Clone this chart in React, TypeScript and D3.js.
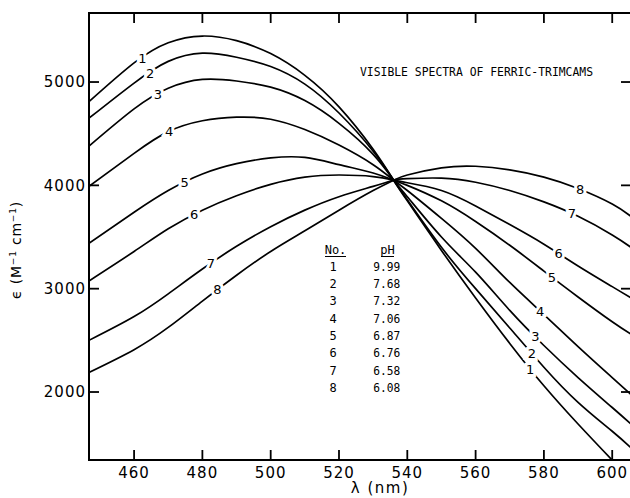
import React from 'react';
import * as d3 from 'd3';

// Wavelength grid (nm) shared by all spectra
const wavelengths = [446.8, 460, 470, 480, 490, 500, 510, 520, 530, 536, 540, 550, 560, 570, 580, 590, 600, 605.5];

// Molar absorptivity (M^-1 cm^-1) for each solution
const spectrum1 = [4810, 5185, 5380, 5445, 5400, 5275, 5065, 4760, 4350, 4050, 3850, 3370, 2910, 2470, 2060, 1690, 1340, 1150];
const spectrum2 = [4650, 4990, 5200, 5280, 5240, 5150, 4980, 4700, 4330, 4050, 3860, 3400, 3000, 2620, 2240, 1900, 1620, 1460];
const spectrum3 = [4380, 4740, 4940, 5025, 5010, 4950, 4820, 4600, 4300, 4050, 3890, 3500, 3160, 2790, 2450, 2140, 1850, 1690];
const spectrum4 = [3990, 4310, 4520, 4625, 4660, 4640, 4540, 4390, 4200, 4050, 3950, 3680, 3390, 3060, 2750, 2440, 2140, 1975];
const spectrum5 = [3440, 3740, 3950, 4110, 4210, 4265, 4270, 4200, 4120, 4050, 4000, 3850, 3650, 3420, 3170, 2920, 2680, 2560];
const spectrum6 = [3075, 3360, 3580, 3760, 3900, 4010, 4080, 4100, 4085, 4050, 4025, 3950, 3800, 3620, 3430, 3220, 3020, 2910];
const spectrum7 = [2500, 2730, 2950, 3190, 3410, 3600, 3760, 3890, 3990, 4050, 4065, 4070, 4030, 3950, 3840, 3700, 3520, 3400];
const spectrum8 = [2190, 2410, 2625, 2880, 3130, 3360, 3560, 3760, 3950, 4050, 4100, 4170, 4185, 4150, 4080, 3970, 3820, 3700];

const spectra = [spectrum1, spectrum2, spectrum3, spectrum4, spectrum5, spectrum6, spectrum7, spectrum8];
const curveNumbers = ['1', '2', '3', '4', '5', '6', '7', '8'];
const pHValues = ['9.99', '7.68', '7.32', '7.06', '6.87', '6.76', '6.58', '6.08'];

// Where each curve number sits along its curve (nm)
const leftLabelAt = [462.4, 464.7, 467, 470.3, 474.8, 477.6, 482.5, 484.4];
const rightLabelAt = [576, 576.5, 577.5, 578.9, 582.3, 584.3, 588.2, 590.6];

const xTicks = [460, 480, 500, 520, 540, 560, 580, 600];
const yTicks = [2000, 3000, 4000, 5000];

const title = 'VISIBLE SPECTRA OF FERRIC-TRIMCAMS';

const W = 630;
const H = 498;
const left = 89;
const right = 631;
const top = 13;
const bottom = 460;

const x = d3.scaleLinear().domain([446.8, 605.5]).range([left, right]);
const y = d3.scaleLinear().domain([1342, 5668]).range([bottom, top]);

const valueAt = (series: number[], lam: number) => {
  const i = d3.bisectRight(wavelengths, lam) - 1;
  const j = Math.min(i + 1, wavelengths.length - 1);
  const t = (lam - wavelengths[i]) / (wavelengths[j] - wavelengths[i] || 1);
  return series[i] + t * (series[j] - series[i]);
};

const line = d3
  .line<number>()
  .x((_, i) => x(wavelengths[i]))
  .y((d) => y(d))
  .curve(d3.curveNatural);

const sans = 'DejaVu Sans, Liberation Sans, sans-serif';
const mono = 'DejaVu Sans Mono, Liberation Mono, monospace';

export default function App() {
  const tick = 10;
  return (
    <svg width={W} height={H} style={{ position: 'absolute', left: 0, top: 0, background: '#fff' }}>
      <defs>
        <clipPath id="plot">
          <rect x={left} y={top} width={right - left} height={bottom - top} />
        </clipPath>
      </defs>
      <rect x={0} y={0} width={W} height={H} fill="#fff" />

      {/* spectra */}
      <g clipPath="url(#plot)" fill="none" stroke="#000" strokeWidth={1.7} strokeLinejoin="round">
        {spectra.map((s, k) => (
          <path key={k} d={line(s) || ''} />
        ))}
      </g>

      {/* curve numbers */}
      <g fontFamily={sans} fontSize={13} textAnchor="middle" fill="#000">
        {spectra.map((s, k) => (
          <text
            key={'l' + k}
            x={x(leftLabelAt[k])}
            y={y(valueAt(s, leftLabelAt[k]))}
            dy="0.36em"
            stroke="#fff"
            strokeWidth={6}
            paintOrder="stroke"
          >
            {curveNumbers[k]}
          </text>
        ))}
        {spectra.map((s, k) => (
          <text
            key={'r' + k}
            x={x(rightLabelAt[k])}
            y={y(valueAt(s, rightLabelAt[k]))}
            dy="0.36em"
            stroke="#fff"
            strokeWidth={6}
            paintOrder="stroke"
          >
            {curveNumbers[k]}
          </text>
        ))}
      </g>

      {/* frame */}
      <rect x={left} y={top} width={right - left} height={bottom - top} fill="none" stroke="#000" strokeWidth={2} />

      {/* ticks */}
      <g stroke="#000" strokeWidth={1.8}>
        {xTicks.map((t) => (
          <g key={'xt' + t}>
            <line x1={x(t)} x2={x(t)} y1={bottom} y2={bottom - tick} />
            <line x1={x(t)} x2={x(t)} y1={top} y2={top + tick} />
          </g>
        ))}
        {yTicks.map((t) => (
          <g key={'yt' + t}>
            <line x1={left} x2={left + tick} y1={y(t)} y2={y(t)} />
            <line x1={right} x2={right - tick} y1={y(t)} y2={y(t)} />
          </g>
        ))}
      </g>

      {/* tick labels */}
      <g fontFamily={sans} fontSize={15} fill="#000" letterSpacing={1}>
        {xTicks.map((t) => (
          <text key={'xl' + t} x={x(t)} y={478} textAnchor="middle">
            {t}
          </text>
        ))}
        {yTicks.map((t) => (
          <text key={'yl' + t} x={86} y={y(t)} dy="0.36em" textAnchor="end">
            {t}
          </text>
        ))}
      </g>

      {/* axis titles */}
      <text x={380} y={493} textAnchor="middle" fontFamily={sans} fontSize={15} letterSpacing={1.5}>
        λ (nm)
      </text>
      <text
        transform="translate(21,250) rotate(-90)"
        textAnchor="middle"
        fontFamily={sans}
        fontSize={14}
        letterSpacing={0.8}
      >
        ϵ (M<tspan dy={-5} fontSize={9}>−1</tspan>
        <tspan dy={5}> cm</tspan>
        <tspan dy={-5} fontSize={9}>−1</tspan>
        <tspan dy={5}>)</tspan>
      </text>

      {/* title */}
      <text x={360} y={76} fontFamily={mono} fontSize={13} textLength={233} lengthAdjust="spacingAndGlyphs">
        {title}
      </text>

      {/* pH table */}
      <g fontFamily={mono} fontSize={12} fill="#000" textAnchor="middle">
        <text x={335.5} y={254}>No.</text>
        <line x1={325} x2={346} y1={256.5} y2={256.5} stroke="#000" strokeWidth={1} />
        <text x={387.5} y={254}>pH</text>
        <line x1={381} x2={394} y1={256.5} y2={256.5} stroke="#000" strokeWidth={1} />
        {curveNumbers.map((n, i) => (
          <g key={'row' + n}>
            <text x={333} y={270.7 + i * 17.3}>{n}</text>
            <text x={386.7} y={270.7 + i * 17.3} textLength={27} lengthAdjust="spacingAndGlyphs">
              {pHValues[i]}
            </text>
          </g>
        ))}
      </g>
    </svg>
  );
}
